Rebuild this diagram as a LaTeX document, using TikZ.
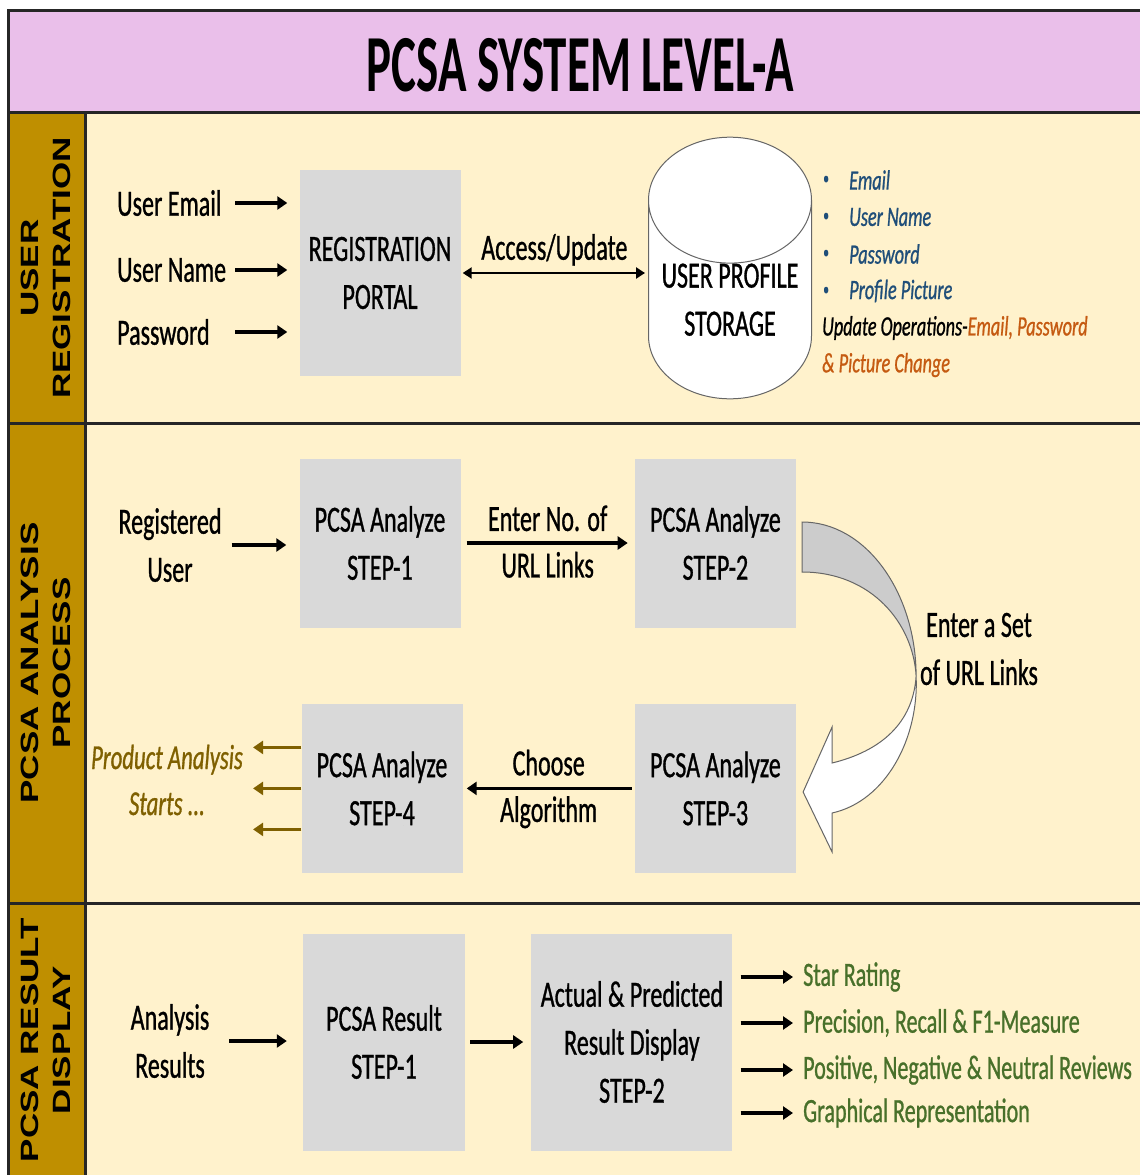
\documentclass[tikz,border=0pt]{standalone}
\usepackage{fontspec}
\usepackage{xcolor}
\usetikzlibrary{shapes.geometric, arrows.meta, positioning}

\setmainfont{Carlito}[FakeStretch=0.65, FakeBold=0.8]
\newfontfamily\titlefam{Carlito}[FakeStretch=0.58]
\newfontfamily\sidefam{Liberation Sans}[FakeStretch=1.4]

\definecolor{titlepink}{RGB}{234,191,234}
\definecolor{cream}{RGB}{255,242,204}
\definecolor{goldbar}{RGB}{191,143,0}
\definecolor{boxgray}{RGB}{217,217,217}
\definecolor{noteblue}{RGB}{31,78,121}
\definecolor{noteorange}{RGB}{197,90,17}
\definecolor{startbrown}{RGB}{127,96,0}
\definecolor{resultgreen}{RGB}{72,112,42}

\newcommand{\labfont}{\fontsize{37}{48}\selectfont}
\newcommand{\notefont}{\fontsize{28}{37}\selectfont\itshape}
\newcommand{\outfont}{\fontsize{34}{46}\selectfont}
\newcommand{\sidefont}{\sidefam\bfseries\fontsize{25}{32}\selectfont}

\begin{document}
\begin{tikzpicture}[
        x=1pt, y=-1pt,
        stepbox/.style={
            rectangle,
            fill=boxgray,
            inner sep=0pt,
            minimum width=161pt,
            minimum height=169pt,
            align=center,
            font=\labfont
        },
        txt/.style={inner sep=0pt, align=center, font=\labfont},
        sidetxt/.style={rotate=90, inner sep=0pt, align=center, font=\sidefont},
        notetxt/.style={inner sep=0pt, anchor=west, font=\notefont},
        outtxt/.style={inner sep=0pt, anchor=west, font=\outfont, text=resultgreen},
        arrow/.style={-{Triangle[length=10pt, width=13pt]}, line width=3.6pt},
        dblarrow/.style={{Triangle[length=9pt, width=11pt]}-{Triangle[length=9pt, width=11pt]}, line width=2.6pt},
        borderline/.style={line width=3pt, draw=black!85}
    ]

    \useasboundingbox (0,0) rectangle (1140,1175);
    \clip (0,0) rectangle (1140,1175);

    % bands and frame
    \fill[white] (0,0) rectangle (1140,1175);
    \fill[titlepink] (8,10) rectangle (1150,112);
    \fill[cream] (8,112) rectangle (1150,1180);
    \fill[goldbar] (8,112) rectangle (85,1180);
    \draw[borderline] (1150,10) -- (8,10) -- (8,1180);
    \foreach \y in {112,423,903}
        \draw[borderline] (8,\y) -- (1150,\y);
    \draw[borderline] (85,112) -- (85,1180);

    \node (title) [inner sep=0pt, font=\titlefam\bfseries\fontsize{81}{90}\selectfont] at (580,65) {PCSA SYSTEM LEVEL-A};

    \node (sec1) [sidetxt] at (46,268) {USER\\REGISTRATION};
    \node (sec2) [sidetxt] at (46,663) {PCSA ANALYSIS\\PROCESS};
    \node (sec3) [sidetxt] at (46,1040) {PCSA RESULT\\DISPLAY};

    % user registration
    \node (portal) [stepbox, minimum height=206pt] at (380,273) {REGISTRATION\\PORTAL};
    \node (store) [cylinder, shape border rotate=90, aspect=0.92, draw=black!60, line width=1pt, fill=white,
        minimum width=163pt, minimum height=237pt, align=center, font=\labfont, inner sep=0pt,
        anchor=shape center] at (730,268) {USER PROFILE\\STORAGE};

    \foreach \field/\y [count=\i] in {User Email/203, User Name/270, Password/332}
        \node (in\i) [txt, anchor=west] at (117,\y) {\field};
    \foreach \i in {1,2,3}
        \draw[arrow, shorten <=9pt, shorten >=12pt] (in2.east |- in\i) -- (portal.west |- in\i);
    \draw[dblarrow, shorten <=2pt, shorten >=3pt] (portal.east) -- node[txt, above=6pt] {Access/Update} (portal.east -| store.west);

    \foreach \attr [count=\i] in {Email, User Name, Password, Profile Picture} {
        \node (dot\i) [notetxt, text=noteblue, font=\fontsize{18}{18}\selectfont] at (823, {143+37*\i}) {\textbullet};
        \node (attr\i) [notetxt, text=noteblue] at (849, {143+37*\i}) {\attr};
    }
    \node (update) [notetxt] at (822,328) {Update Operations-\textcolor{noteorange}{Email, Password}};
    \node (change) [notetxt, text=noteorange] at (822,365) {\& Picture Change};

    % analysis process
    \node (s1) [stepbox] at (380,543) {PCSA Analyze\\STEP-1};
    \node (s2) [stepbox, right=174pt of s1] {PCSA Analyze\\STEP-2};
    \node (s3) [stepbox, below=76pt of s2] {PCSA Analyze\\STEP-3};
    \node (s4) [stepbox, left=172pt of s3] {PCSA Analyze\\STEP-4};

    \node (reg) [txt] at (170,545) {Registered\\User};
    \draw[arrow, shorten <=10pt, shorten >=13pt] (reg.east) -- (reg.east -| s1.west);
    \draw[arrow, shorten <=6pt, shorten >=7pt] (s1) -- node[txt, above=10pt] {Enter No. of} node[txt, below=7pt] {URL Links} (s2);
    \draw[arrow, shorten <=3pt, shorten >=4pt] (s3) -- node[txt, above=11pt] {Choose} node[txt, below=6pt] {Algorithm} (s4);

    % curved block arrow from step-2 to step-3
    \begin{scope}[shift={(s2.east)}, draw=gray!80!black, line width=1pt]
        \filldraw[fill=gray!40] (6,-21) .. controls (70,-21) and (120,50) .. (120,133)
            .. controls (117,80) and (75,29) .. (6,29) -- cycle;
        \filldraw[fill=white] (120,133) .. controls (123,195) and (90,258) .. (36,270)
            -- (36,309) -- (7,249) -- (36,184) -- (36,220)
            .. controls (85,208) and (117,180) .. (120,133) -- cycle;
    \end{scope}
    \node (seturl) [txt] at (979,649) {Enter a Set\\of URL Links};

    \node (start) [txt, font=\fontsize{35}{46}\selectfont\itshape, text=startbrown] at (167,780) {Product Analysis\\Starts ...};
    \foreach \dy in {41,0,-41} {
        \coordinate (tail) at ([yshift=\dy pt]s4.west);
        \draw[arrow, startbrown, shorten >=10pt] (tail) -- (tail -| start.east);
    }

    % result display
    \node (r1) [stepbox, minimum width=162pt, minimum height=217pt] at (384,1042) {PCSA Result\\STEP-1};
    \node (r2) [stepbox, minimum width=201pt, minimum height=217pt, right=66pt of r1] {Actual \& Predicted\\Result Display\\STEP-2};
    \node (ana) [txt] at (170,1041) {Analysis\\Results};
    \draw[arrow, shorten <=20pt, shorten >=16pt] (ana.east) -- (ana.east -| r1.west);
    \draw[arrow, shorten <=5pt, shorten >=8pt] (r1.east) -- (r1.east -| r2.west);

    \foreach \res/\y [count=\i] in {Star Rating/977, {Precision, Recall \& F1-Measure}/1023,
            {Positive, Negative \& Neutral Reviews}/1070, Graphical Representation/1113} {
        \node (o\i) [outtxt] at (803,\y) {\res};
        \draw[arrow, shorten <=8pt, shorten >=10pt] (r2.east |- o\i.west) -- (o\i.west);
    }

\end{tikzpicture}
\end{document}
